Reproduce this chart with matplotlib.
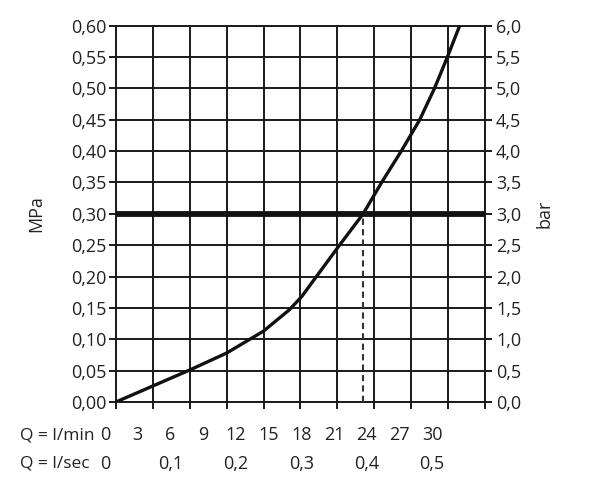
import matplotlib
matplotlib.use('Agg')
import matplotlib.pyplot as plt
import numpy as np

plt.rcParams['font.family'] = ['Open Sans', 'DejaVu Sans']

# curva portata / pressione
portata = [0, 3, 6, 9, 12, 14.1, 15.1, 16.3, 18.1, 20.1, 21.6, 23.2, 24.7, 25.9, 26.95, 27.95]
pressione = [0, 0.0255, 0.051, 0.078, 0.113, 0.147, 0.168, 0.20, 0.248, 0.30, 0.35, 0.40, 0.45, 0.50, 0.55, 0.60]

pressione_lim = 0.30   # linea spessa
portata_lim = 20.1     # tratteggio verticale

mpa_ticks = np.arange(0, 0.601, 0.05)
bar_ticks = np.arange(0, 6.01, 0.5)
lmin_labels = [0, 3, 6, 9, 12, 15, 18, 21, 24, 27, 30]
lsec_labels = [0, 0.1, 0.2, 0.3, 0.4, 0.5]

fs = 13
col_testo = '#222222'
col_linee = '#1a1a1a'

fig = plt.figure(figsize=(5.92, 4.95), dpi=100)
ax = fig.add_axes([0.196, 0.188, 0.623, 0.760])

lw = 1.4
ax.set_xlim(0, 30)
ax.set_ylim(0, 0.60)
ax.set_xticks(np.arange(0, 31, 3))
ax.set_yticks(mpa_ticks)
ax.grid(True, color=col_linee, linewidth=lw)
ax.set_axisbelow(True)
for s in ax.spines.values():
    s.set_linewidth(lw)
    s.set_color(col_linee)

ax.plot(portata, pressione, color='#111111', linewidth=2.4,
        solid_capstyle='round', solid_joinstyle='round', zorder=4)
ax.axhline(pressione_lim, color='#111111', linewidth=4.2, zorder=5)
ax.plot([portata_lim, portata_lim], [0, pressione_lim], color='#333333',
        linewidth=1.5, linestyle=(0, (3, 2)), zorder=3)

ax.set_yticklabels([f'{v:.2f}'.replace('.', ',') for v in mpa_ticks], fontsize=fs, color=col_testo)
ax.set_xticklabels([])
ax.tick_params(axis='both', direction='out', length=5, width=lw, color=col_linee)
ax.tick_params(axis='y', pad=2)
ax.set_ylabel('MPa', fontsize=fs, color=col_testo)
ax.yaxis.set_label_coords(-0.191, 0.5)

ax2 = ax.twinx()
ax2.set_ylim(0, 6)
ax2.set_yticks(bar_ticks)
ax2.set_yticklabels([f'{v:.1f}'.replace('.', ',') for v in bar_ticks], fontsize=fs, color=col_testo)
ax2.tick_params(axis='y', direction='out', length=5, width=lw, color=col_linee, pad=3)
for s in ax2.spines.values():
    s.set_visible(False)
ax2.set_ylabel('bar', fontsize=fs, color=col_testo)
ax2.yaxis.set_label_coords(1.136, 0.5)

# etichette asse Q (spaziatura del disegno originale, non allineata alla griglia)
x0, passo = 105 / 592, 32.7 / 592
riga1, riga2 = 1 - 435 / 495, 1 - 464 / 495
fig.text(20 / 592, riga1, 'Q = l/min', fontsize=12.5, color=col_testo, va='center', ha='left')
fig.text(20 / 592, riga2, 'Q = l/sec', fontsize=12.5, color=col_testo, va='center', ha='left')
for v in lmin_labels:
    fig.text(x0 + passo * v / 3, riga1, str(v), fontsize=fs, color=col_testo, va='center', ha='center')
for v in lsec_labels:
    testo = '0' if v == 0 else f'{v:.1f}'.replace('.', ',')
    fig.text(x0 + passo * v * 60 / 3, riga2, testo, fontsize=fs, color=col_testo, va='center', ha='center')

fig.savefig('out.png', dpi=100, facecolor='white')
